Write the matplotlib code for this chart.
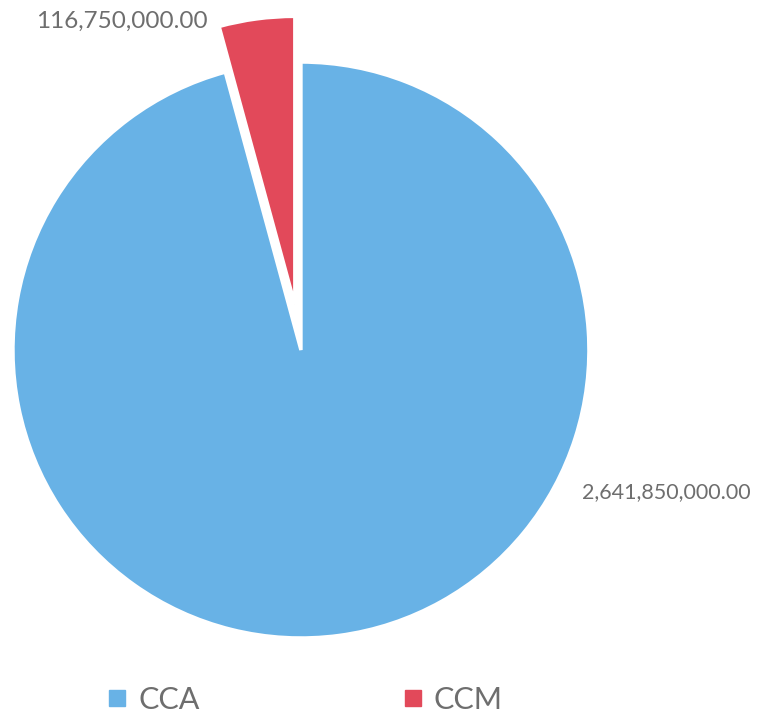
import matplotlib
matplotlib.use("Agg")
import matplotlib.pyplot as plt
from matplotlib.lines import Line2D

categories = ["CCA", "CCM"]
values = [2641850000.00, 116750000.00]
colors = ["#68b2e6", "#e2495a"]
explode = [0.0, 0.16]
label_pos = [(0.975, -0.495), (-0.325, 1.142)]
label_ha = ["left", "right"]
label_size = [15.5, 17.5]

plt.rcParams['font.family'] = ['Lato', 'DejaVu Sans']

fig = plt.figure(figsize=(7.62, 7.15), dpi=100)
ax = fig.add_axes([0, 0, 1, 1])
ax.pie(values, colors=colors, explode=explode, startangle=90, counterclock=False,
       radius=1.0, wedgeprops=dict(edgecolor="white", linewidth=2.5))
ax.set_xlim(-1.045, 1.601)
ax.set_ylim(-1.267, 1.215)
ax.set_aspect("equal")
ax.axis("off")

for v, (x, y), ha, fs in zip(values, label_pos, label_ha, label_size):
    ax.text(x, y, f"{v:,.2f}", ha=ha, va="center", fontsize=fs, color="#6e6e6e")

handles = [Line2D([0], [0], marker="s", linestyle="none", markersize=12,
                  markerfacecolor=c, markeredgecolor=c) for c in colors]
leg = ax.legend(handles, categories, loc="lower left", bbox_to_anchor=(0.102, -0.037),
                ncol=2, frameon=False, fontsize=22, columnspacing=6.55,
                handletextpad=0.3, handlelength=0.8, labelcolor="#6e6e6e")

fig.savefig("out.png", dpi=100, facecolor="white")
